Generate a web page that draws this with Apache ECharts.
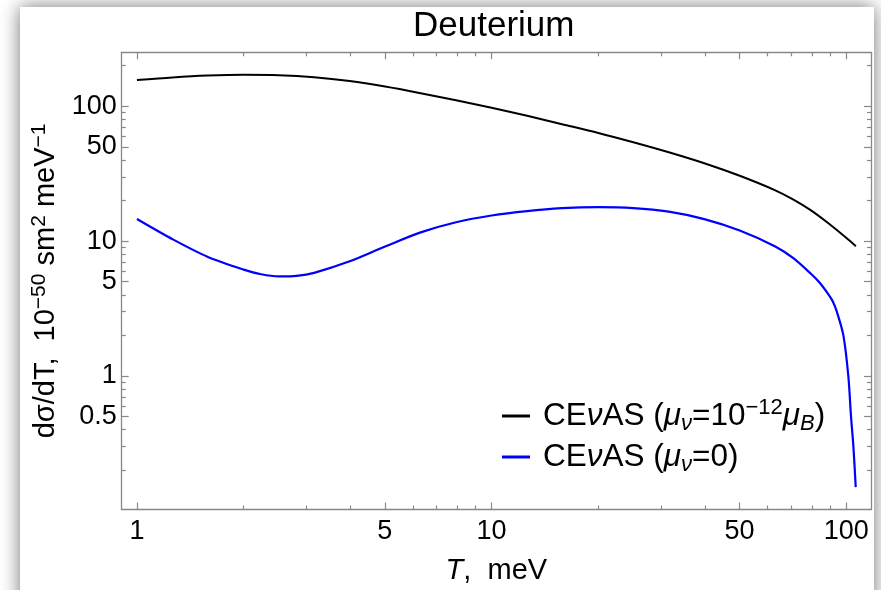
<!DOCTYPE html>
<html>
<head>
<meta charset="utf-8">
<script src="https://cdn.jsdelivr.net/npm/echarts@6/dist/echarts.min.js"></script>
<style>
html,body{margin:0;padding:0;background:#fff;overflow:hidden;}
#panel{position:absolute;left:20px;top:7px;width:854px;height:660px;background:#fff;box-shadow:0 0 18px rgba(0,0,0,0.55);}
#chart{position:absolute;left:0;top:0;width:881px;height:590px;}
</style>
</head>
<body>
<div id="panel"></div>
<div id="chart"></div>
<script>
// ---- data ----
const titleText = 'Deuterium';
const seriesNames = ['CEνAS (μν=10−12μB)', 'CEνAS (μν=0)'];

// recoil energy T, meV  /  dσ/dT, 10^-50 cm^2 meV^-1
const magneticT = [1, 1.26, 1.58, 2, 2.51, 3.16, 3.98, 5.01, 6.31, 7.94, 10, 12.6, 15.8, 20, 25.1, 31.6, 39.8, 50.1, 63.1, 70.8, 79.4, 89.1, 100, 106.5];
const magneticXS = [156.7, 163.7, 168.7, 171.0, 169.8, 164.1, 153.8, 140.0, 125.0, 110.7, 97.3, 84.9, 73.6, 63.4, 54.1, 45.6, 37.8, 30.5, 23.8, 20.4, 16.96, 13.55, 10.58, 9.17];

const zeroMomentT = [1, 1.26, 1.58, 2, 2.24, 2.51, 2.82, 3.16, 3.98, 5.01, 6.31, 7.94, 10, 12.6, 15.8, 20, 25.1, 31.6, 39.8, 50.1, 63.1, 70.8, 79.4, 84.1, 89.1, 91.7, 94.1, 98.2, 101.4, 103.2, 104.8, 106.4];
const zeroMomentXS = [14.59, 10.33, 7.66, 6.15, 5.68, 5.48, 5.53, 5.82, 7.08, 9.12, 11.61, 13.8, 15.49, 16.71, 17.54, 17.86, 17.58, 16.52, 14.55, 11.97, 9.12, 7.5, 5.75, 4.93, 4.03, 3.57, 3.0, 2.0, 1.0, 0.5, 0.3, 0.15];

// tick values
const xMajorTicks = [1, 5, 10, 50, 100];
const xMinorTicks = [2, 3, 4, 6, 7, 8, 9, 20, 30, 40, 60, 70, 80, 90];
const yMajorTicks = [0.5, 1, 5, 10, 50, 100];
const yMinorTicks = [0.2, 0.3, 0.4, 0.6, 0.7, 0.8, 0.9, 2, 3, 4, 6, 7, 8, 9, 20, 30, 40, 60, 70, 80, 90, 200];

// ---- chart ----
const LOG = v => Math.log10(v);
const fmt = v => String(parseFloat(Math.pow(10, v).toPrecision(3)));
const FONT = '"Liberation Sans", Arial, sans-serif';
const X_RANGE = [-0.043, 2.070];
const Y_RANGE = [-0.99, 2.40];
const AXIS_COLOR = '#888';

function richSet(size, supSize, lh, lead) {
  return {
    lead: {fontSize: size, fontFamily: FONT, color: '#000', lineHeight: lh, padding: [0, 0, 0, lead]},
    n: {fontSize: size, fontFamily: FONT, color: '#000', lineHeight: lh},
    i: {fontSize: size, fontFamily: FONT, color: '#000', lineHeight: lh, fontStyle: 'italic'},
    sup: {fontSize: supSize, fontFamily: FONT, color: '#000', lineHeight: supSize - 3, verticalAlign: 'top'},
    sub: {fontSize: supSize, fontFamily: FONT, color: '#000', lineHeight: supSize - 5, verticalAlign: 'bottom', fontStyle: 'italic'}
  };
}
const legendRich = richSet(31.5, 22, 38, 8);
const nameRich = richSet(29, 21, 36, 0);

const legendText = {};
legendText[seriesNames[0]] = '{lead|CE}{i|ν}{n|AS (}{i|μ}{sub|ν}{n|=10}{sup|−12}{i|μ}{sub|B}{n|)}';
legendText[seriesNames[1]] = '{lead|CE}{i|ν}{n|AS (}{i|μ}{sub|ν}{n|=0)}';

function xAxisDef(pos, ticks, len, showLabel, showLine) {
  const vals = ticks.map(LOG);
  return {
    type: 'value', position: pos, min: X_RANGE[0], max: X_RANGE[1],
    axisLine: {show: showLine, onZero: false, lineStyle: {color: AXIS_COLOR, width: 1.3}},
    axisTick: {show: true, inside: true, length: len, customValues: vals, lineStyle: {color: AXIS_COLOR, width: 1.2}},
    axisLabel: {show: showLabel, customValues: vals, formatter: fmt, color: '#000', fontSize: 27, fontFamily: FONT, margin: 9},
    splitLine: {show: false}
  };
}
function yAxisDef(pos, ticks, len, showLabel, showLine) {
  const vals = ticks.map(LOG);
  return {
    type: 'value', position: pos, min: Y_RANGE[0], max: Y_RANGE[1],
    axisLine: {show: showLine, onZero: false, lineStyle: {color: AXIS_COLOR, width: 1.3}},
    axisTick: {show: true, inside: true, length: len, customValues: vals, lineStyle: {color: AXIS_COLOR, width: 1.2}},
    axisLabel: {show: showLabel, customValues: vals, formatter: fmt, color: '#000', fontSize: 27, fontFamily: FONT, margin: 5},
    splitLine: {show: false}
  };
}

const xAxes = [
  xAxisDef('bottom', xMajorTicks, 7, true, true),
  xAxisDef('bottom', xMinorTicks, 4, false, false),
  xAxisDef('top', xMajorTicks, 7, false, true),
  xAxisDef('top', xMinorTicks, 4, false, false)
];
xAxes[0].name = '{i|T}{n|,  meV}';
xAxes[0].nameLocation = 'middle';
xAxes[0].nameGap = 43;
xAxes[0].nameTextStyle = {rich: nameRich};

const yAxes = [
  yAxisDef('left', yMajorTicks, 7, true, true),
  yAxisDef('left', yMinorTicks, 4, false, false),
  yAxisDef('right', yMajorTicks, 7, false, true),
  yAxisDef('right', yMinorTicks, 4, false, false)
];
yAxes[0].name = '{n|dσ/dT,  10}{sup|−50}{n| sm}{sup|2}{n| meV}{sup|−1}';
yAxes[0].nameLocation = 'middle';
yAxes[0].nameRotate = 90;
yAxes[0].nameGap = 57;
yAxes[0].nameTextStyle = {rich: nameRich};

function legendDef(name, top) {
  return {
    data: [name], left: 502, top: top, orient: 'vertical', icon: 'rect',
    itemWidth: 28, itemHeight: 3, padding: 0,
    formatter: n => legendText[n],
    textStyle: {rich: legendRich}
  };
}

const option = {
  animation: false,
  title: {
    text: titleText, left: 413, top: 9, padding: 0,
    textStyle: {fontSize: 35, fontWeight: 'normal', fontFamily: FONT, color: '#000'}
  },
  grid: {left: 121.7, right: 10, top: 52.3, bottom: 77.3, containLabel: false},
  xAxis: xAxes,
  yAxis: yAxes,
  legend: [legendDef(seriesNames[0], 397), legendDef(seriesNames[1], 441)],
  series: [
    {
      name: seriesNames[0], type: 'line', xAxisIndex: 0, yAxisIndex: 0,
      data: magneticT.map((t, k) => [LOG(t), LOG(magneticXS[k])]),
      showSymbol: false, smooth: 0.3,
      lineStyle: {color: '#000', width: 2}, itemStyle: {color: '#000'}
    },
    {
      name: seriesNames[1], type: 'line', xAxisIndex: 0, yAxisIndex: 0,
      data: zeroMomentT.map((t, k) => [LOG(t), LOG(zeroMomentXS[k])]),
      showSymbol: false, smooth: 0.3,
      lineStyle: {color: '#0000ff', width: 2.2}, itemStyle: {color: '#0000ff'}
    }
  ]
};

const chart = echarts.init(document.getElementById('chart'), null, {renderer: 'canvas'});
chart.setOption(option);
</script>
</body>
</html>
